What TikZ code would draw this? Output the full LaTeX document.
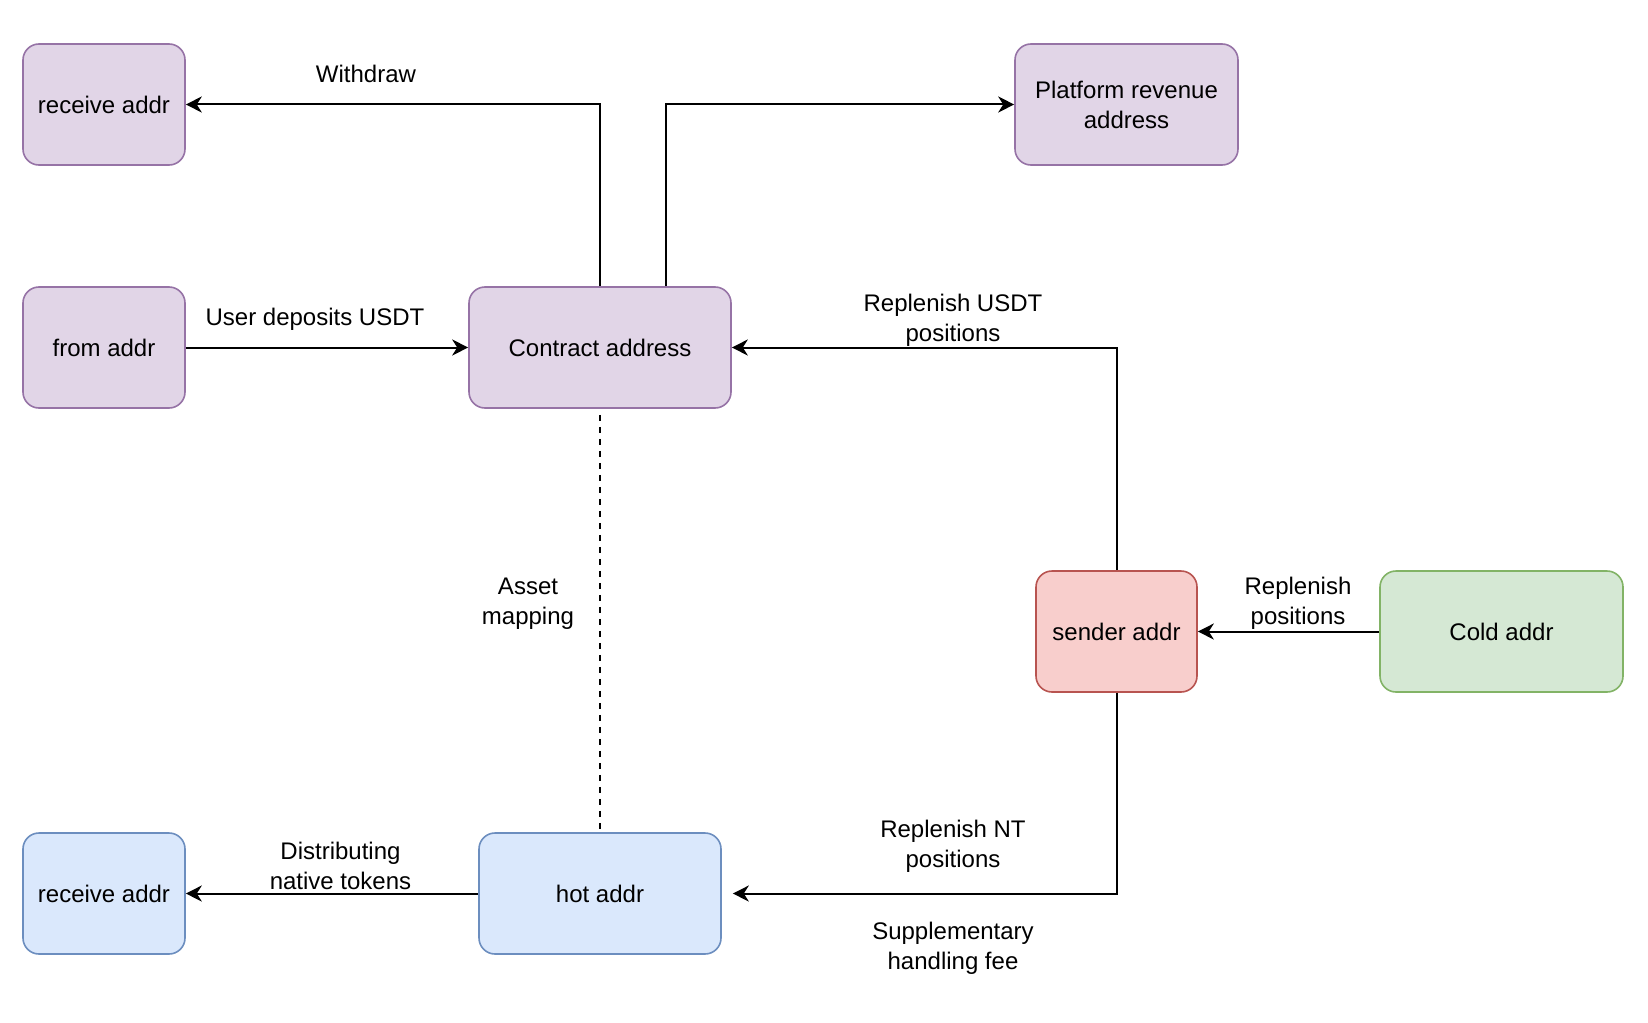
\documentclass[tikz,border=0pt]{standalone}
\usepackage{fontspec}
\setmainfont{Liberation Sans}
\usetikzlibrary{arrows.meta}
\definecolor{pfill}{HTML}{E1D5E7}\definecolor{pdraw}{HTML}{9673A6}
\definecolor{bfill}{HTML}{DAE8FC}\definecolor{bdraw}{HTML}{6C8EBF}
\definecolor{rfill}{HTML}{F8CECC}\definecolor{rdraw}{HTML}{B85450}
\definecolor{gfill}{HTML}{D5E8D4}\definecolor{gdraw}{HTML}{82B366}
\tikzset{
  box/.style={rectangle, rounded corners=8pt, line width=0.8pt, minimum height=60.5pt, inner sep=2pt, align=center, font=\fontsize{12pt}{15pt}\selectfont},
  pbox/.style={box, fill=pfill, draw=pdraw},
  bbox/.style={box, fill=bfill, draw=bdraw},
  rbox/.style={box, fill=rfill, draw=rdraw},
  gbox/.style={box, fill=gfill, draw=gdraw},
  lbl/.style={align=center, inner sep=0pt, font=\fontsize{12pt}{15pt}\selectfont},
  arr/.style={line width=1pt, -{Stealth[length=8pt,width=8pt,inset=2.5pt]}},
  link/.style={line width=0.9pt, dash pattern=on 3pt off 3pt}
}
\begin{document}
\begin{tikzpicture}[x=0.5pt,y=-0.5pt]
\useasboundingbox (0,0) rectangle (1648,1022);
\node[pbox, minimum width=81pt] (recvT) at (104,104.5) {receive addr};
\node[pbox, minimum width=81pt] (from) at (104,347.5) {from addr};
\node[pbox, minimum width=131pt] (contract) at (600,347.5) {Contract address};
\node[pbox, minimum width=111.5pt] (platform) at (1126.5,104.5) {Platform revenue\\address};
\node[rbox, minimum width=80.5pt] (sender) at (1116.5,631.5) {sender addr};
\node[gbox, minimum width=121.5pt] (cold) at (1501.5,631.5) {Cold addr};
\node[bbox, minimum width=81pt] (recvB) at (104,893.5) {receive addr};
\node[bbox, minimum width=121pt] (hot) at (600,893.5) {hot addr};

\draw[arr] (contract.north) |- (recvT.east);
\draw[arr] ([xshift=33pt]contract.north) |- (platform.west);
\draw[arr] (from.east) -- (contract.west);
\draw[arr] (sender.north) |- (contract.east);
\draw[link, shorten <=3pt] (contract.south) -- (hot.north);
\draw[arr] (hot.west) -- (recvB.east);
\draw[arr, shorten >=5.5pt] (sender.south) |- (hot.east);
\draw[arr] (cold.west) -- (sender.east);

\node[lbl] (l1) at (366,74) {Withdraw};
\node[lbl] (l2) at (315,319) {User deposits USDT};
\node[lbl] (l3) at (953,320) {Replenish USDT\\positions};
\node[lbl] (l4) at (528,604) {Asset\\mapping};
\node[lbl] (l5) at (340.5,866) {Distributing\\native tokens};
\node[lbl] (l6) at (953,846.5) {Replenish NT\\positions};
\node[lbl] (l7) at (953,948) {Supplementary\\handling fee};
\node[lbl] (l8) at (1298,603.5) {Replenish\\positions};
\end{tikzpicture}
\end{document}
